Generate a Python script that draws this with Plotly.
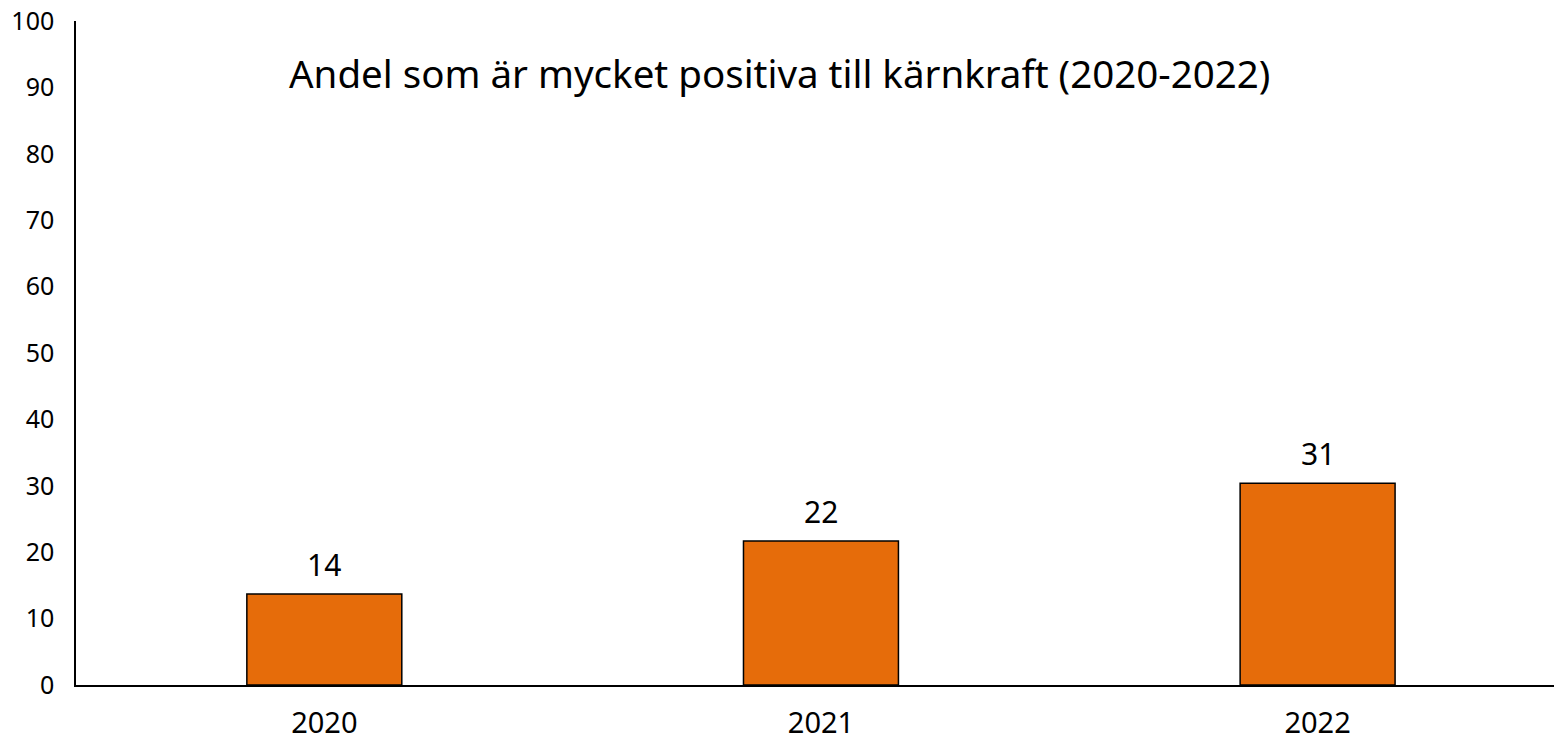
import plotly.graph_objects as go

years = ["2020", "2021", "2022"]
values = [13.7, 21.7, 30.4]
labels = ["14", "22", "31"]
y_ticks = [0, 10, 20, 30, 40, 50, 60, 70, 80, 90, 100]
title_text = "Andel som är mycket positiva till kärnkraft (2020-2022)"

FONT = "Noto Sans"

fig = go.Figure()
fig.add_trace(go.Bar(
    x=years, y=values,
    marker=dict(color="#E66C0A", line=dict(color="black", width=1.5)),
    hoverinfo="skip",
))

for i, (v, lab) in enumerate(zip(values, labels)):
    fig.add_annotation(x=i, y=v, text=lab, showarrow=False,
                       yanchor="bottom", yshift=7,
                       font=dict(family=FONT, size=30, color="black"))

fig.add_annotation(xref="paper", yref="paper", x=0.476, y=0.922,
                   text=title_text, showarrow=False,
                   xanchor="center", yanchor="middle",
                   font=dict(family=FONT, size=38.5, color="black"))

fig.update_layout(
    width=1554, height=736,
    margin=dict(l=76, r=0, t=21, b=51),
    paper_bgcolor="white", plot_bgcolor="white",
    showlegend=False,
    bargap=0.688,
    font=dict(family=FONT, color="black"),
    xaxis=dict(type="category", range=[-0.5, 2.476], showline=True,
               linecolor="black", linewidth=1.5, showgrid=False, ticks="",
               tickfont=dict(family=FONT, size=29, color="black"),
               ticklabelstandoff=11, zeroline=False, automargin=False),
    yaxis=dict(range=[0, 100], tickvals=y_ticks, showline=True,
               linecolor="black", linewidth=1.5, showgrid=False, ticks="",
               tickfont=dict(family=FONT, size=25, color="black"),
               ticklabelstandoff=15, zeroline=False, automargin=False),
)

fig.write_html("out.html", config={"displayModeBar": False},
               post_script="document.body.style.margin='0px';document.body.style.overflow='hidden';")
